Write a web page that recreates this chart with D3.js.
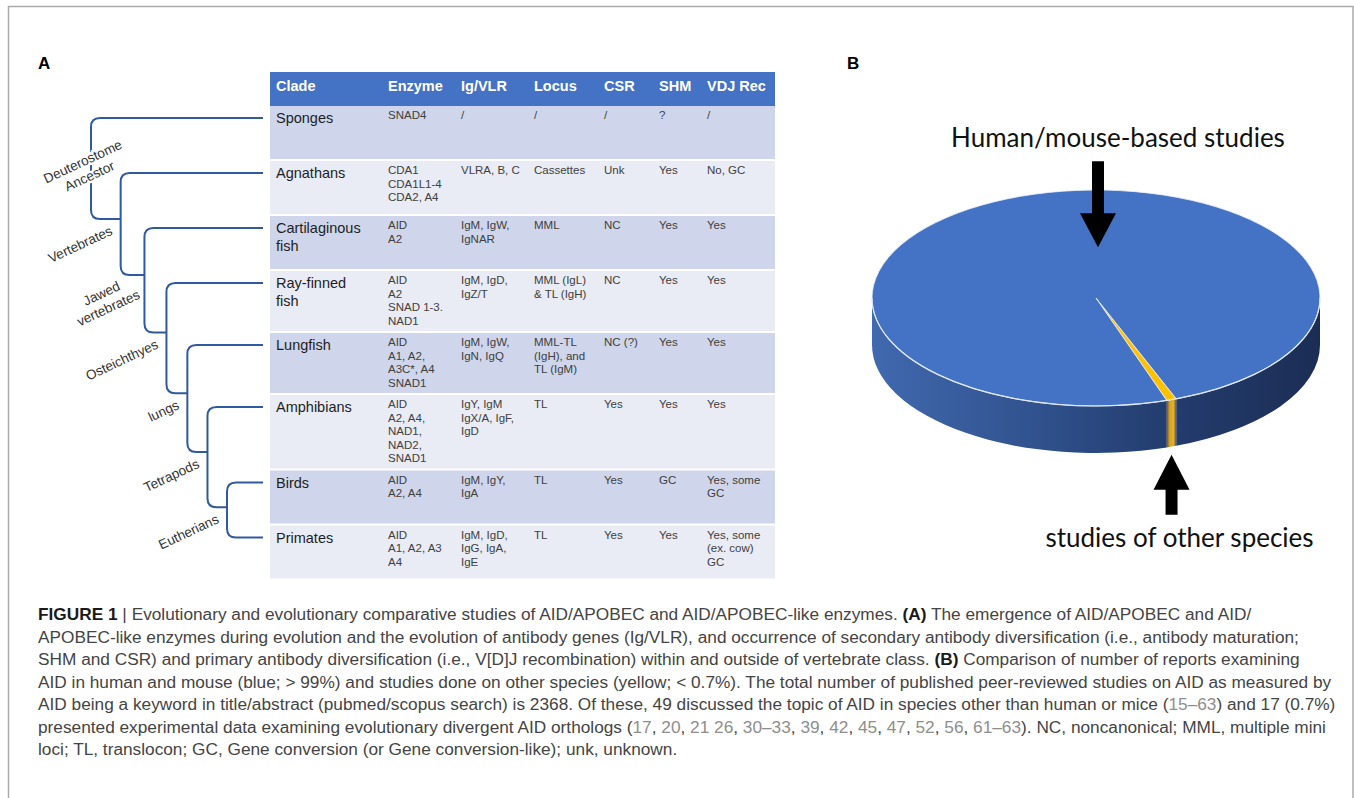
<!DOCTYPE html>
<html>
<head>
<meta charset="utf-8">
<script src="https://cdn.jsdelivr.net/npm/d3@7"></script>
<style>
  body { margin: 0; background: #fff; }
  svg { display: block; }
</style>
</head>
<body>
<svg id="fig" width="1354" height="798"></svg>
<script>
// ---- data ----
const columns = ["Clade", "Enzyme", "Ig/VLR", "Locus", "CSR", "SHM", "VDJ Rec"];
const clades = ["Sponges", "Agnathans", "Cartilaginous\nfish", "Ray-finned\nfish", "Lungfish", "Amphibians", "Birds", "Primates"];
const enzymes = [
  ["SNAD4"], ["CDA1", "CDA1L1-4", "CDA2, A4"], ["AID", "A2"], ["AID", "A2", "SNAD 1-3.", "NAD1"],
  ["AID", "A1, A2,", "A3C*, A4", "SNAD1"], ["AID", "A2, A4,", "NAD1,", "NAD2,", "SNAD1"], ["AID", "A2, A4"], ["AID", "A1, A2, A3", "A4"]
];
const igVlr = [
  ["/"], ["VLRA, B, C"], ["IgM, IgW,", "IgNAR"], ["IgM, IgD,", "IgZ/T"], ["IgM, IgW,", "IgN, IgQ"],
  ["IgY, IgM", "IgX/A, IgF,", "IgD"], ["IgM, IgY,", "IgA"], ["IgM, IgD,", "IgG, IgA,", "IgE"]
];
const locus = [["/"], ["Cassettes"], ["MML"], ["MML (IgL)", "& TL (IgH)"], ["MML-TL", "(IgH), and", "TL (IgM)"], ["TL"], ["TL"], ["TL"]];
const csr = ["/", "Unk", "NC", "NC", "NC (?)", "Yes", "Yes", "Yes"];
const shm = ["?", "Yes", "Yes", "Yes", "Yes", "Yes", "GC", "Yes"];
const vdj = [["/"], ["No, GC"], ["Yes"], ["Yes"], ["Yes"], ["Yes"], ["Yes, some", "GC"], ["Yes, some", "(ex. cow)", "GC"]];

// internal nodes of the cladogram, root first
const cladeNodes = ["Deuterostome\nAncestor", "Vertebrates", "Jawed\nvertebrates", "Osteichthyes", "lungs", "Tetrapods", "Eutherians"];

// panel B: number of AID studies
const pieGroups = ["studies of other species", "Human/mouse-based studies"];
const pieValues = [17, 2351];

const captionLines = [
  "**FIGURE 1** | Evolutionary and evolutionary comparative studies of AID/APOBEC and AID/APOBEC-like enzymes. **(A)** The emergence of AID/APOBEC and AID/",
  "APOBEC-like enzymes during evolution and the evolution of antibody genes (Ig/VLR), and occurrence of secondary antibody diversification (i.e., antibody maturation;",
  "SHM and CSR) and primary antibody diversification (i.e., V[D]J recombination) within and outside of vertebrate class. **(B)** Comparison of number of reports examining",
  "AID in human and mouse (blue; > 99%) and studies done on other species (yellow; < 0.7%). The total number of published peer-reviewed studies on AID as measured by",
  "AID being a keyword in title/abstract (pubmed/scopus search) is 2368. Of these, 49 discussed the topic of AID in species other than human or mice ({15–63}) and 17 (0.7%)",
  "presented experimental data examining evolutionary divergent AID orthologs ({17}, {20}, {21 26}, {30–33}, {39}, {42}, {45}, {47}, {52}, {56}, {61–63}). NC, noncanonical; MML, multiple mini",
  "loci; TL, translocon; GC, Gene conversion (or Gene conversion-like); unk, unknown."
];

// ---- setup ----
const svg = d3.select("#fig");
const FONT = "'Liberation Sans', Arial, Helvetica, sans-serif";

svg.append("rect")
  .attr("x", 8.5).attr("y", 6.5)
  .attr("width", 1344.5).attr("height", 820)
  .attr("fill", "none").attr("stroke", "#aaa").attr("stroke-width", 1.5);

svg.append("text").attr("x", 38).attr("y", 69).text("A")
  .style("font", `bold 17px ${FONT}`);
svg.append("text").attr("x", 847).attr("y", 69).text("B")
  .style("font", `bold 17px ${FONT}`);

// ---- table ----
const tbl = { x: 270, y: 72, headH: 34, gap: 2, width: 505 };
const colWidths = [112, 73, 73, 70, 55, 48, 74];
const colX = d3.scaleOrdinal()
  .domain(columns)
  .range(d3.cumsum([0, ...colWidths.slice(0, -1)]).map(v => tbl.x + v + 6));

const rows = clades.map((c, i) => ({
  cells: [c.split("\n"), enzymes[i], igVlr[i], locus[i], [csr[i]], [shm[i]], vdj[i]]
}));
let yCursor = tbl.y + tbl.headH;
rows.forEach(r => {
  const n = d3.max(r.cells.slice(1), c => c.length);
  r.h = Math.max(53, n * 13.5 + 6);
  r.top = yCursor;
  yCursor += r.h + tbl.gap;
});

const gTable = svg.append("g");
gTable.append("rect")
  .attr("x", tbl.x).attr("y", tbl.y)
  .attr("width", tbl.width).attr("height", tbl.headH)
  .attr("fill", "#4472c4");

gTable.selectAll(".head")
  .data(columns)
  .join("text")
  .attr("class", "head")
  .attr("x", d => colX(d))
  .attr("y", tbl.y + 19)
  .attr("fill", "#fff")
  .style("font", `bold 14.5px ${FONT}`)
  .text(d => d);

const rowG = gTable.selectAll(".row")
  .data(rows)
  .join("g")
  .attr("class", "row")
  .attr("transform", d => `translate(0,${d.top})`);

rowG.append("rect")
  .attr("x", tbl.x).attr("width", tbl.width)
  .attr("height", d => d.h)
  .attr("fill", (d, i) => (i % 2 === 0 ? "#cfd5ea" : "#e9ebf5"));

rowG.each(function (d) {
  const g = d3.select(this);
  d.cells.forEach((lines, ci) => {
    const isClade = ci === 0;
    g.append("text")
      .attr("x", colX(columns[ci]))
      .attr("y", isClade ? 17 : 13)
      .attr("fill", isClade ? "#1e1e1e" : "#404040")
      .style("font", `${isClade ? 14.5 : 11.5}px ${FONT}`)
      .selectAll("tspan")
      .data(lines)
      .join("tspan")
      .attr("x", colX(columns[ci]))
      .attr("dy", (l, li) => (li === 0 ? 0 : isClade ? 18 : 13.5))
      .text(l => l);
  });
});

// ---- cladogram ----
function buildTree(i) {
  const node = { name: cladeNodes[i], children: [{ leaf: i }] };
  if (i < cladeNodes.length - 1) node.children.push(buildTree(i + 1));
  else node.children.push({ leaf: i + 1 });
  return node;
}
const root = d3.hierarchy(buildTree(0));
const xDepth = d3.scalePow().exponent(0.85)
  .domain([0, cladeNodes.length - 1])
  .range([91, 227]);
const leafEnd = tbl.x - 7;
const corner = 9;

root.eachAfter(n => {
  if (n.data.leaf !== undefined) {
    n.attach = rows[n.data.leaf].top + 12;
  } else {
    n.px = xDepth(n.depth);
    n.topY = n.children[0].attach;
    n.botY = n.children[1].attach;
    n.attach = n.topY + 0.45 * (n.botY - n.topY);
  }
});
const inner = root.descendants().filter(n => n.children);

const gTree = svg.append("g");
gTree.selectAll("path")
  .data(inner)
  .join("path")
  .attr("fill", "none")
  .attr("stroke", "#30599e")
  .attr("stroke-width", 2)
  .attr("d", n => {
    const b = n.children[1];
    const endB = b.children ? b.px : leafEnd;
    return `M${leafEnd},${n.topY}H${n.px + corner}Q${n.px},${n.topY} ${n.px},${n.topY + corner}` +
      `V${n.botY - corner}Q${n.px},${n.botY} ${n.px + corner},${n.botY}H${endB}`;
  });

const labelG = gTree.selectAll(".clab")
  .data(inner)
  .join("g")
  .attr("class", "clab");

labelG.each(function (n) {
  const g = d3.select(this);
  const lines = n.data.name.split("\n");
  const t = g.append("text")
    .attr("text-anchor", "middle")
    .attr("fill", "#333")
    .attr("stroke", "#fff").attr("stroke-width", 5)
    .attr("paint-order", "stroke")
    .style("font", `13.5px ${FONT}`);
  t.selectAll("tspan").data(lines).join("tspan")
    .attr("x", 0)
    .attr("dy", (l, i) => (i === 0 ? (lines.length > 1 ? -3 : 4.5) : 16))
    .text(l => l);
  const len = t.node().getBBox().width;
  if (!n.parent) {
    g.attr("transform", `translate(${n.px - 5},${(n.topY + n.botY) / 2}) rotate(-25)`);
  } else {
    g.attr("transform", `translate(${n.px - 9},${n.attach + 11}) rotate(-25)`);
    t.attr("transform", `translate(${-len / 2},0)`);
  }
});

// ---- panel B: 3D pie ----
const cx = 1096, cy = 298, rx = 224, ry = 108, depth = 47;
const pieColors = d3.scaleOrdinal().domain(pieGroups).range(["#ffc000", "#4472c4"]);
const start = 159 * Math.PI / 180;
const arcs = d3.pie().sort(null).startAngle(start).endAngle(start + 2 * Math.PI)(pieValues)
  .map((a, i) => ({ ...a, group: pieGroups[i] }));

const defs = svg.append("defs");
const sideGrad = defs.append("linearGradient").attr("id", "sideBlue")
  .attr("gradientUnits", "userSpaceOnUse")
  .attr("x1", cx - rx).attr("x2", cx + rx).attr("y1", 0).attr("y2", 0);
[[0, "#4169af"], [0.35, "#31538f"], [0.62, "#253f72"], [1, "#1b2d54"]]
  .forEach(([o, c]) => sideGrad.append("stop").attr("offset", o).attr("stop-color", c));
const sideGold = defs.append("linearGradient").attr("id", "sideGold");
[[0, "#6e5410"], [0.3, "#d3a126"], [0.7, "#e2b232"], [1, "#6e5410"]]
  .forEach(([o, c]) => sideGold.append("stop").attr("offset", o).attr("stop-color", c));

const ex = a => cx + rx * Math.sin(a);
const ey = a => cy - ry * Math.cos(a);
function sidePath(a0, a1) {
  const large = a1 - a0 > Math.PI ? 1 : 0;
  return `M${ex(a0)},${ey(a0)}A${rx},${ry} 0 ${large} 1 ${ex(a1)},${ey(a1)}` +
    `L${ex(a1)},${ey(a1) + depth}A${rx},${ry} 0 ${large} 0 ${ex(a0)},${ey(a0) + depth}Z`;
}
function frontParts(a0, a1) {
  const out = [];
  [0, 2 * Math.PI, -2 * Math.PI].forEach(k => {
    const lo = Math.max(a0, Math.PI / 2 + k), hi = Math.min(a1, 1.5 * Math.PI + k);
    if (hi > lo) out.push([lo, hi]);
  });
  return out;
}

const gPie = svg.append("g");
const sides = arcs.flatMap(a => frontParts(a.startAngle, a.endAngle).map(p => ({ group: a.group, p })));
gPie.selectAll(".side")
  .data(sides)
  .join("path")
  .attr("class", "side")
  .attr("d", d => sidePath(d.p[0], d.p[1]))
  .attr("fill", d => (d.group === pieGroups[0] ? "url(#sideGold)" : "url(#sideBlue)"));

const arcGen = d3.arc().innerRadius(0).outerRadius(rx);
gPie.append("g")
  .attr("transform", `translate(${cx},${cy}) scale(1,${ry / rx})`)
  .selectAll("path")
  .data(arcs)
  .join("path")
  .attr("d", arcGen)
  .attr("fill", d => pieColors(d.group))
  .attr("stroke", "#eef2fa")
  .attr("stroke-width", 0.8)
  .attr("vector-effect", "non-scaling-stroke");

gPie.append("path")
  .attr("d", `M${ex(Math.PI / 2)},${ey(Math.PI / 2)}A${rx},${ry} 0 0 1 ${ex(1.5 * Math.PI)},${ey(1.5 * Math.PI)}`)
  .attr("fill", "none").attr("stroke", "#dfe7f5").attr("stroke-width", 1.2);

function arrow(tx, ty, dir, headL, headW, shaftL, shaftW) {
  const b = ty - dir * headL, e = ty - dir * (headL + shaftL);
  return [[tx, ty], [tx - headW / 2, b], [tx - shaftW / 2, b], [tx - shaftW / 2, e],
    [tx + shaftW / 2, e], [tx + shaftW / 2, b], [tx + headW / 2, b]];
}
const other = arcs[0];
const midA = (other.startAngle + other.endAngle) / 2;
const downTip = [cx + 2, cy - 0.47 * ry];
const upTip = [ex(midA), ey(midA) + depth + 8];

gPie.append("polygon")
  .attr("points", arrow(downTip[0], downTip[1], 1, 34, 36, 52, 12).join(" "))
  .attr("fill", "#000");
gPie.append("polygon")
  .attr("points", arrow(upTip[0], upTip[1], -1, 35, 36, 25, 12).join(" "))
  .attr("fill", "#000");

const pieFont = "26px Lato, 'Open Sans', sans-serif";
gPie.append("text")
  .attr("x", cx + 22).attr("y", downTip[1] - 86 - 14)
  .attr("text-anchor", "middle").attr("fill", "#111")
  .style("font", pieFont)
  .text(pieGroups[1]);
gPie.append("text")
  .attr("x", upTip[0] + 8).attr("y", upTip[1] + 60 + 32)
  .attr("text-anchor", "middle").attr("fill", "#111")
  .style("font", pieFont)
  .text(pieGroups[0]);

// ---- caption ----
const cap = svg.append("g").style("font-family", FONT).style("font-size", "16px");
captionLines.forEach((line, i) => {
  const t = cap.append("text").attr("x", 38).attr("y", 620 + i * 22.5).attr("fill", "#444");
  line.split(/(\*\*[^*]+\*\*|\{[^}]+\})/).filter(s => s).forEach(seg => {
    const ts = t.append("tspan");
    if (seg.startsWith("**")) ts.text(seg.slice(2, -2)).attr("font-weight", "bold").attr("fill", "#1a1a1a");
    else if (seg.startsWith("{")) ts.text(seg.slice(1, -1)).attr("fill", "#8e8e8e");
    else ts.text(seg);
  });
});
// shrink the caption so its widest line fits the frame like in the original
const widest = d3.max(cap.selectAll("text").nodes(), n => n.getBBox().width);
cap.style("font-size", `${16 * 1298 / widest}px`);
</script>
</body>
</html>
